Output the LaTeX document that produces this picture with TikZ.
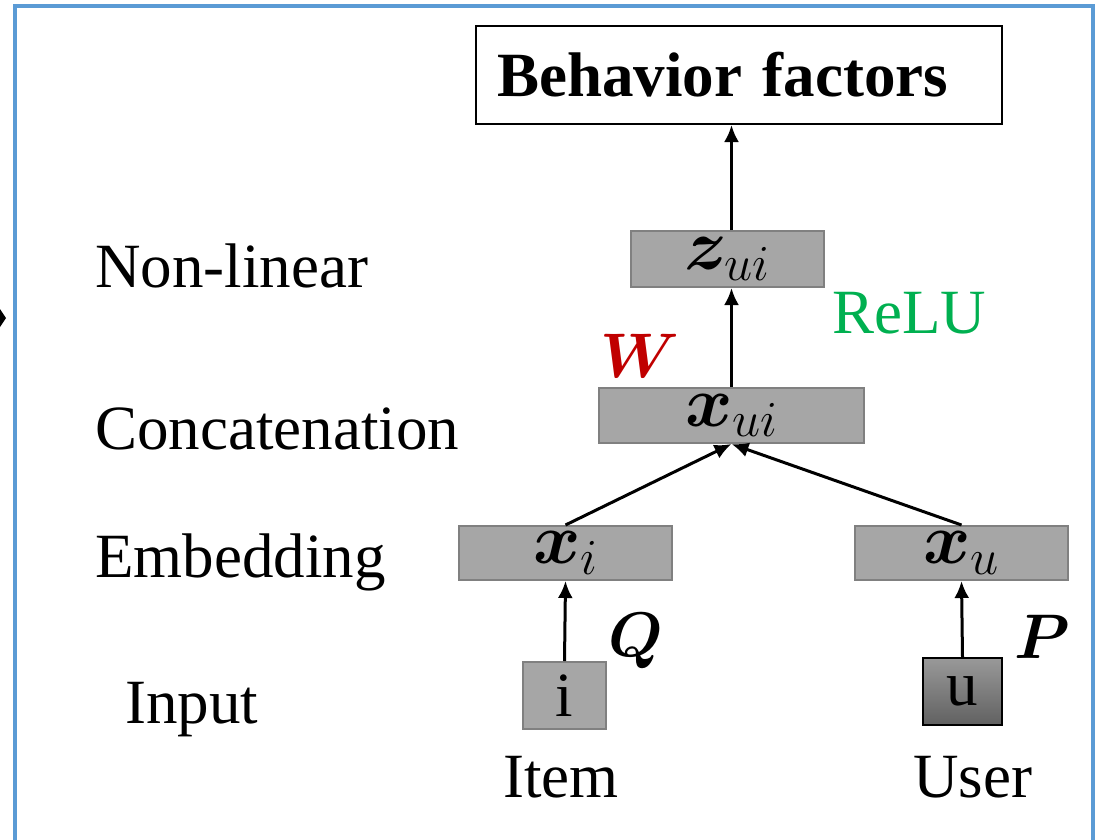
\documentclass[tikz,border=0pt]{standalone}
\usepackage{fix-cm}
\usepackage{amsmath,bm}
\usepackage{fontspec}
\setmainfont{Liberation Serif}
\newfontfamily\tnr{Liberation Serif}
\usetikzlibrary{arrows.meta,shadings}
\definecolor{frameblue}{HTML}{5B9BD5}
\definecolor{relugreen}{HTML}{00B050}
\definecolor{wred}{HTML}{C00000}
\tikzset{
  big/.style={font=\tnr\fontsize{63}{75}\selectfont},
  mbig/.style={font=\tnr\fontsize{72}{80}\selectfont},
  vecbox/.style={draw=black!50, fill=black!35, line width=2pt, inner sep=0pt},
  lbl/.style={big, anchor=base west, inner sep=0pt},
  arr/.style={line width=3pt, -{Latex[length=17pt,width=15pt]}},
}
\begin{document}
\begin{tikzpicture}[x=1pt,y=-1pt]
\useasboundingbox (0,0) rectangle (1102,839);
% frame
\draw[frameblue, line width=4pt] (15,845) -- (15,6) -- (1093,6) -- (1093,845);
\fill (0,309) -- (6,318) -- (0,327) -- cycle;
% top box
\node[draw=black, line width=2pt, minimum height=98pt, text width=484pt, inner xsep=21pt, align=left, font=\tnr\fontsize{63}{75}\selectfont\bfseries] (bf) at (739,75) {Behavior factors};
% vectors
\node[vecbox, mbig, minimum width=193pt, minimum height=56pt] (zui) at (727.5,259) {$\bm{z}_{ui}$};
\node[vecbox, mbig, minimum width=265pt, minimum height=55pt] (xui) at (731.5,415.5) {$\bm{x}_{ui}$};
\node[vecbox, mbig, minimum width=213pt, minimum height=54pt] (xi) at (565.5,553) {$\bm{x}_{i}$};
\node[vecbox, mbig, minimum width=213pt, minimum height=54pt] (xu) at (961.5,553) {$\bm{x}_{u}$};
\node[vecbox, big, minimum width=83pt, minimum height=67pt] (i) at (564.5,695.5) {i};
\node[big, draw=black, line width=2pt, top color=black!40, bottom color=black!62, minimum width=79pt, minimum height=67pt, inner sep=0pt] (u) at (962.5,691.5) {u};
% labels
\node[lbl] (l1) at (95,287) {Non-linear};
\node[lbl] (l2) at (95,449) {Concatenation};
\node[lbl] (l3) at (95,577) {Embedding};
\node[lbl] (l4) at (125,723) {Input};
\node[lbl] (l5) at (503,797) {Item};
\node[lbl] (l6) at (913,797) {User};
\node[lbl, text=relugreen] (relu) at (832,333) {ReLU};
\node[big, text=wred, inner sep=0pt] (w) at (640,356) {$\bm{W}$};
\node[big, inner sep=0pt] (q) at (636,641) {$\bm{Q}$};
\node[big, inner sep=0pt] (p) at (1042,637) {$\bm{P}$};
% arrows
\draw[arr] (i.north) -- (xi.south);
\draw[arr] (u.north) -- (xu.south);
\draw[arr] (xi.north) -- (xui.south);
\draw[arr] (xu.north) -- (xui.south);
\draw[arr] (xui.north) -- (xui.north |- zui.south);
\draw[arr] (xui.north |- zui.north) -- (xui.north |- bf.south);
\end{tikzpicture}
\end{document}
